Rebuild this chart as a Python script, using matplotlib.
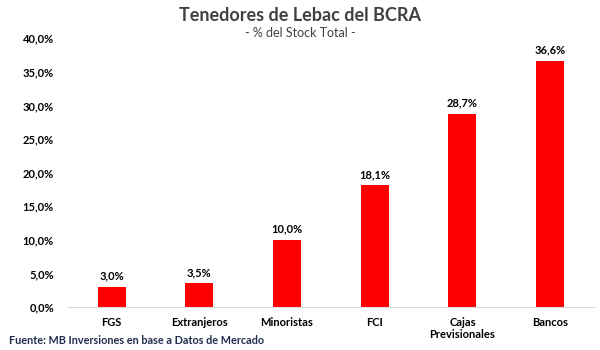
import matplotlib
matplotlib.use("Agg")
import matplotlib.pyplot as plt
from matplotlib.ticker import FuncFormatter

categories = ["FGS", "Extranjeros", "Minoristas", "FCI", "Cajas\nPrevisionales", "Bancos"]
values = [3.0, 3.5, 10.0, 18.1, 28.7, 36.6]

plt.rcParams['font.family'] = ['Lato', 'DejaVu Sans']

fig = plt.figure(figsize=(6, 3.5), dpi=100)
ax = fig.add_axes([0.113, 0.123, 0.877, 0.768])

x = range(len(categories))
bars = ax.bar(x, values, width=0.32, color="#ff0000")
for xi, v in zip(x, values):
    ax.text(xi, v + 0.8, f"{v:.1f}%".replace(".", ","), ha="center", va="bottom",
            fontsize=8, fontweight="bold", color="#000000")

ax.set_xlim(-0.5, len(categories) - 0.5)
ax.set_ylim(0, 40)
ax.set_yticks([0, 5, 10, 15, 20, 25, 30, 35, 40])
ax.yaxis.set_major_formatter(FuncFormatter(lambda v, p: f"{v:.1f}%".replace(".", ",")))
ax.set_xticks(list(x))
ax.set_xticklabels(categories)
for lab in ax.get_xticklabels() + ax.get_yticklabels():
    lab.set_fontweight("bold")
    lab.set_fontsize(8)
ax.tick_params(axis="both", length=0)
ax.tick_params(axis="x", pad=7)
ax.tick_params(axis="y", pad=10)
for s in ["top", "right", "left"]:
    ax.spines[s].set_visible(False)
ax.spines["bottom"].set_color("#d9d9d9")

fig.text(0.5, 0.957, "Tenedores de Lebac del BCRA", ha="center", va="center",
         fontsize=13, fontweight="bold", color="#404040")
fig.text(0.5, 0.905, "- % del Stock Total -", ha="center", va="center",
         fontsize=9, color="#404040")
fig.text(0.015, 0.01, "Fuente: MB Inversiones en base a Datos de Mercado", ha="left", va="bottom",
         fontsize=7.8, fontweight="bold", color="#1f2d4d")

fig.savefig("out.png", dpi=100)
